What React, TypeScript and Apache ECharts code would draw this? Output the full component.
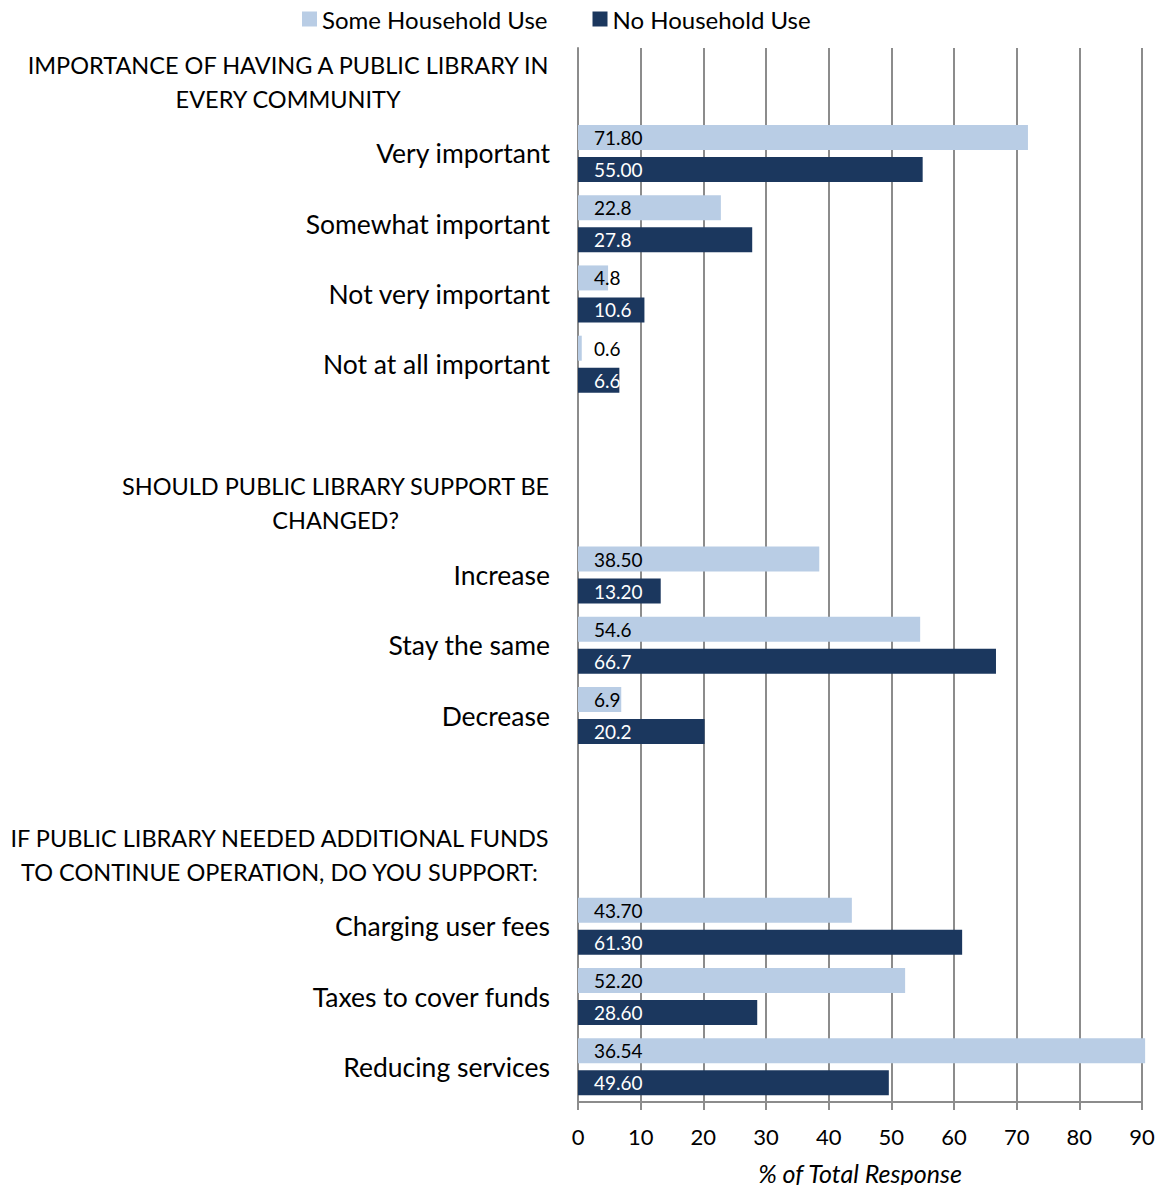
import React, { useEffect, useRef } from "react";
import * as echarts from "echarts";

const H1 = "IMPORTANCE OF HAVING A PUBLIC LIBRARY IN\nEVERY COMMUNITY";
const H2 = "SHOULD PUBLIC LIBRARY SUPPORT BE\nCHANGED?";
const H3 = "IF PUBLIC LIBRARY NEEDED ADDITIONAL FUNDS\nTO CONTINUE OPERATION, DO YOU SUPPORT:";

const categories = [
  H1,
  "Very important",
  "Somewhat important",
  "Not very important",
  "Not at all important",
  " ",
  H2,
  "Increase",
  "Stay the same",
  "Decrease",
  "  ",
  H3,
  "Charging user fees",
  "Taxes to cover funds",
  "Reducing services",
];
const headers = [H1, H2, H3];

const someUse = [null, 71.8, 22.8, 4.8, 0.6, null, null, 38.5, 54.6, 6.9, null, null, 43.7, 52.2, 90.5];
const noUse = [null, 55.0, 27.8, 10.6, 6.6, null, null, 13.2, 66.7, 20.2, null, null, 61.3, 28.6, 49.6];

const someLabels = ["", "71.80", "22.8", "4.8", "0.6", "", "", "38.50", "54.6", "6.9", "", "", "43.70", "52.20", "36.54"];
const noLabels = ["", "55.00", "27.8", "10.6", "6.6", "", "", "13.20", "66.7", "20.2", "", "", "61.30", "28.60", "49.60"];

const xTicks = { min: 0, max: 90, interval: 10 };

const FONT = "Lato";
const GRID = "#8c8c8c";

export default function App() {
  const ref = useRef<HTMLDivElement>(null);
  useEffect(() => {
    if (!ref.current) return;
    const chart = echarts.init(ref.current, null, { renderer: "svg" });
    chart.setOption({
      animation: false,
      textStyle: { fontFamily: FONT },
      legend: {
        left: 297,
        top: 2,
        itemWidth: 15,
        itemHeight: 15,
        itemGap: 45,
        icon: "rect",
        textStyle: { fontSize: 24, color: "#000", fontFamily: FONT },
        data: ["Some Household Use", "No Household Use"],
      },
      grid: {
        left: 578,
        right: 25,
        top: 48,
        bottom: 91,
        containLabel: false,
        outerBoundsMode: "none",
      },
      xAxis: {
        type: "value",
        min: xTicks.min,
        max: xTicks.max,
        interval: xTicks.interval,
        axisLine: { show: true, lineStyle: { color: GRID, width: 2 } },
        axisTick: { show: true, length: 8, lineStyle: { color: GRID, width: 2 } },
        splitLine: { show: true, lineStyle: { color: GRID, width: 2 } },
        axisLabel: { fontSize: 22, color: "#000", margin: 23, fontFamily: FONT },
        name: "% of Total Response",
        nameLocation: "middle",
        nameGap: 58,
        nameTextStyle: { fontSize: 25, fontStyle: "italic", color: "#000", fontFamily: FONT },
      },
      yAxis: {
        type: "category",
        inverse: true,
        data: categories,
        axisLine: { show: true, lineStyle: { color: GRID, width: 2 } },
        axisTick: { show: false },
        axisLabel: {
          fontSize: 26.5,
          color: "#000",
          margin: 28,
          fontFamily: FONT,
          interval: 0,
          formatter: (v: string) =>
            headers.includes(v)
              ? v.split("\n").map((l) => `{h|${l}}`).join("\n")
              : v,
          rich: {
            h: { align: "center", fontSize: 23.5, lineHeight: 34, color: "#000", fontFamily: FONT, padding: [0, 0, 3, 0] },
          },
        },
      },
      series: [
        {
          name: "Some Household Use",
          type: "bar",
          data: someUse,
          barWidth: 25,
          barGap: "28%",
          clip: false,
          itemStyle: { color: "#B9CDE5" },
          label: {
            show: true,
            position: "insideLeft",
            distance: 16,
            color: "#000",
            fontSize: 19,
            fontFamily: FONT,
            formatter: (p: any) => someLabels[p.dataIndex],
          },
        },
        {
          name: "No Household Use",
          type: "bar",
          data: noUse,
          barWidth: 25,
          clip: false,
          itemStyle: { color: "#1B375E" },
          label: {
            show: true,
            position: "insideLeft",
            distance: 16,
            color: "#fff",
            fontSize: 19,
            fontFamily: FONT,
            formatter: (p: any) => noLabels[p.dataIndex],
          },
        },
      ],
    });
    return () => chart.dispose();
  }, []);
  return <div ref={ref} style={{ width: 1167, height: 1193, margin: -8 }} />;
}
